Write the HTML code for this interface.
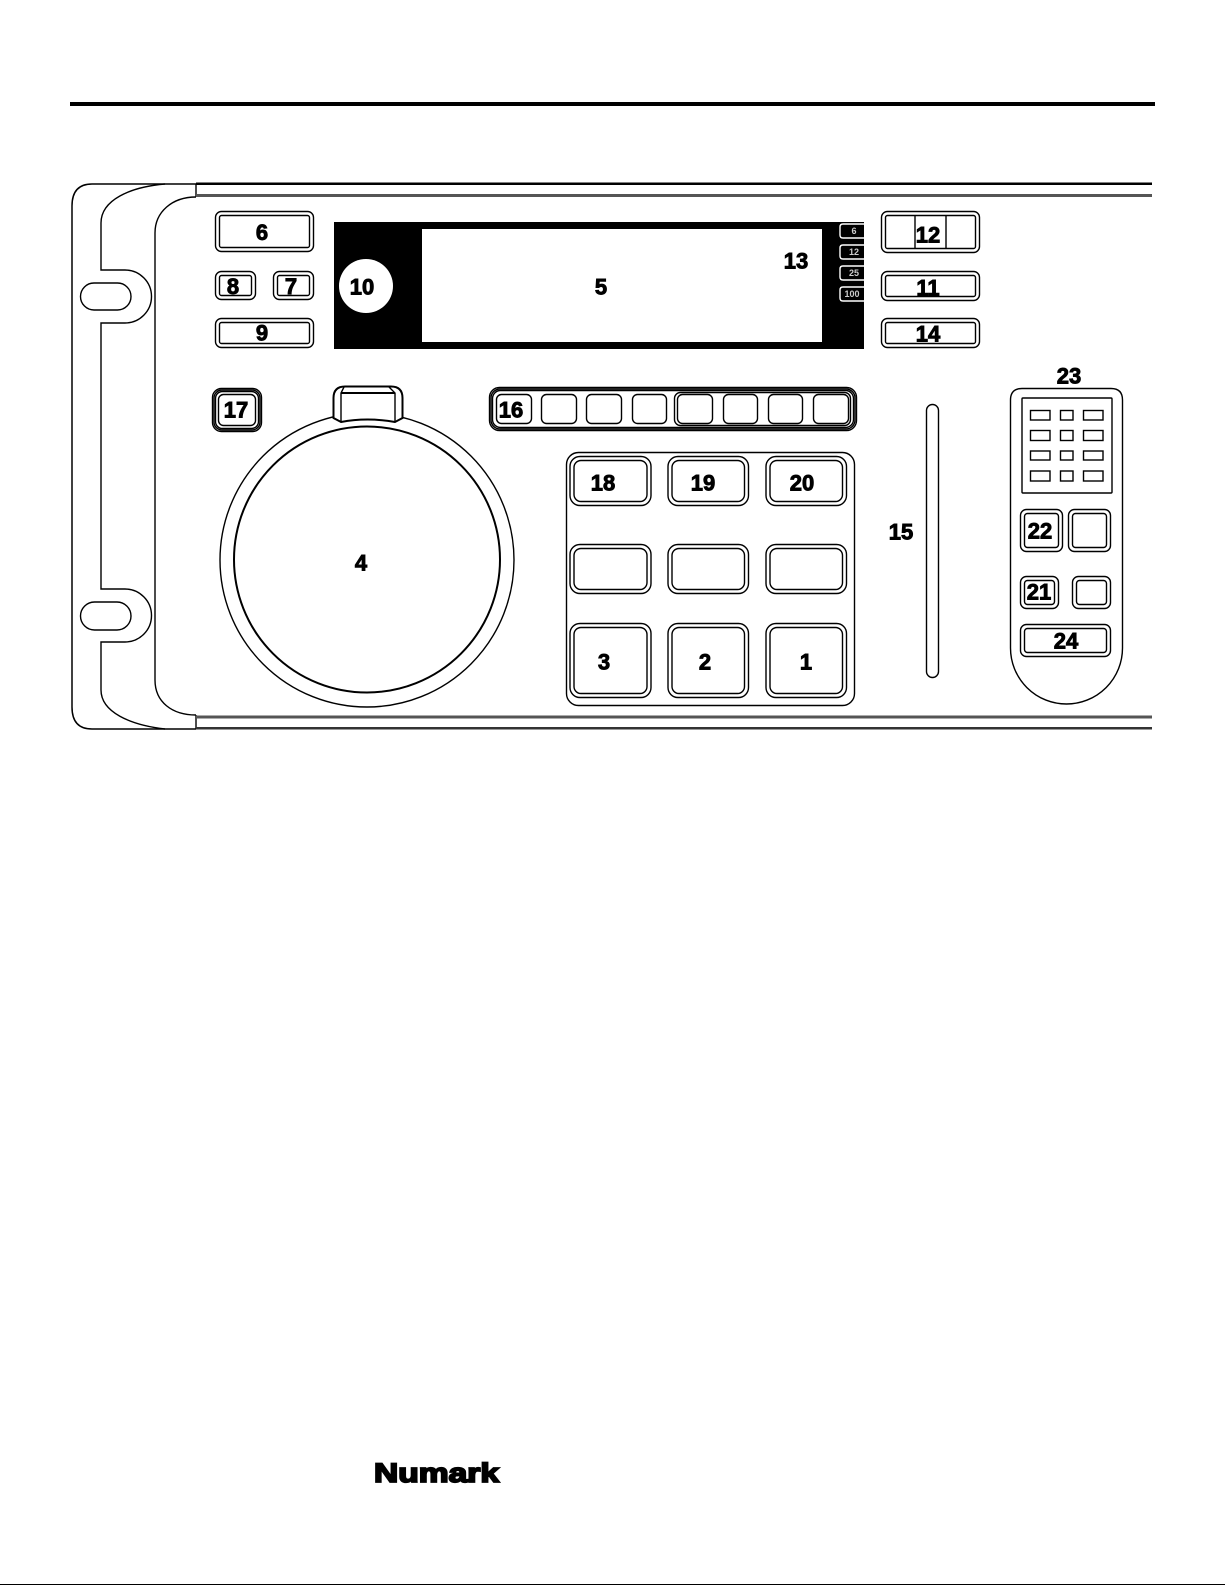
<!DOCTYPE html>
<html>
<head>
<meta charset="utf-8">
<style>
html,body{margin:0;padding:0;background:#fff;width:1225px;height:1585px;overflow:hidden}
svg{display:block}
.l{font-family:"Liberation Sans",sans-serif;font-weight:bold;font-size:22px;text-anchor:middle;fill:#000;stroke:#000;stroke-width:.9px;dominant-baseline:central}
.s{font-family:"Liberation Sans",sans-serif;font-weight:bold;font-size:9px;text-anchor:middle;fill:#ccc;dominant-baseline:central}
rect,path,circle,line{fill:none;stroke:#000;stroke-width:1.4}
.w{fill:#fff}
.t{stroke-width:2}
</style>
</head>
<body>
<svg width="1225" height="1585" viewBox="0 0 1225 1585" xmlns="http://www.w3.org/2000/svg">
<rect x="70" y="102" width="1085" height="4" style="fill:#000;stroke:none"/>
<rect x="0" y="1584" width="1225" height="1" style="fill:#000;stroke:none"/>

<!-- frame -->
<path d="M196 184 H92 Q72 184 72 206 V707 Q72 729 92 729 H196" style="stroke-width:1.5"/>
<path d="M165 184 C130 187 101 200 101 223 V270 H125 A26.5 26.5 0 0 1 125 323 H101 V589 H125 A26.5 26.5 0 0 1 125 642 H101 V690 C101 712 130 725 165 729"/>
<rect x="80.500" y="283" width="50.500" height="27" rx="13.500"/>
<rect x="80.500" y="602" width="50.500" height="28" rx="14"/>
<path d="M196 197 C172 197 155 212 155 233 V680 C155 702 172 715 196 715"/>
<line x1="196" y1="184" x2="196" y2="197"/>
<line x1="196" y1="715" x2="196" y2="729"/>
<rect x="196" y="182.500" width="956" height="2.500" style="fill:#000;stroke:none"/>
<rect x="196" y="194" width="956" height="3" style="fill:#555;stroke:none"/>
<rect x="196" y="715.500" width="956" height="3" style="fill:#555;stroke:none"/>
<rect x="196" y="727" width="956" height="2.500" style="fill:#333;stroke:none"/>

<!-- left buttons -->
<rect x="215.500" y="211.500" width="98" height="40" rx="6"/><rect x="219.500" y="215.500" width="90" height="32" rx="2"/>
<rect x="215.500" y="271.500" width="40" height="28" rx="6"/><rect x="219.500" y="275.500" width="32" height="20" rx="2"/>
<rect x="273.500" y="271.500" width="40" height="28" rx="6"/><rect x="277.500" y="275.500" width="32" height="20" rx="2"/>
<rect x="215.500" y="318.500" width="98" height="29" rx="6"/><rect x="219.500" y="322.500" width="90" height="21" rx="2"/>

<!-- display -->
<rect x="334" y="222" width="530" height="127" style="fill:#000;stroke:none"/>
<rect x="422" y="229" width="400" height="113" style="fill:#fff;stroke:none"/>
<circle cx="366" cy="286" r="27" style="fill:#fff;stroke:none"/>
<path d="M864 224 H843 Q840 224 840 227 V235 Q840 238 843 238 H864" style="stroke:#fff"/>
<path d="M864 245 H843 Q840 245 840 248 V256 Q840 259 843 259 H864" style="stroke:#fff"/>
<path d="M864 266 H843 Q840 266 840 269 V277 Q840 280 843 280 H864" style="stroke:#fff"/>
<path d="M864 287 H843 Q840 287 840 290 V298 Q840 301 843 301 H864" style="stroke:#fff"/>
<text class="s" x="854" y="231">6</text>
<text class="s" x="854" y="252">12</text>
<text class="s" x="854" y="273">25</text>
<text class="s" x="852" y="294">100</text>

<!-- right buttons -->
<rect x="881.500" y="211.500" width="98" height="41" rx="6"/><rect x="885.500" y="215.500" width="90" height="33" rx="2"/>
<line x1="915" y1="215" x2="915" y2="248"/><line x1="946" y1="215" x2="946" y2="248"/>
<rect x="881.500" y="271.500" width="98" height="29" rx="6"/><rect x="885.500" y="275.500" width="90" height="21" rx="2"/>
<rect x="881.500" y="318.500" width="98" height="29" rx="6"/><rect x="885.500" y="322.500" width="90" height="21" rx="2"/>

<!-- 17 -->
<rect x="212.500" y="388.500" width="49" height="43" rx="9"/><rect x="214" y="390" width="46" height="40" rx="8"/><rect x="215.500" y="391.500" width="43" height="37" rx="7"/><rect x="218.500" y="394.500" width="37" height="31" rx="5"/>

<!-- wheel -->
<circle cx="367" cy="560" r="147"/>
<circle cx="367" cy="559.500" r="133" class="t"/>
<path d="M333.500 418 V398 Q333.500 386.500 345 386.500 H391 Q402.500 386.500 402.500 398 V418 L395 422 Q367 417 341 422 Z" class="w t"/>
<path d="M344 387 L341 393 V422 M389 387 L395 393 V422"/>
<line x1="341" y1="393" x2="395" y2="393" class="t"/>

<!-- strip 16 -->
<rect x="489.500" y="387.500" width="367" height="43" rx="10"/><rect x="491" y="389" width="364" height="40" rx="9"/><rect x="492.500" y="390.500" width="361" height="37" rx="8"/>
<rect x="674.500" y="392.500" width="176" height="33" rx="6"/>
<rect x="496.500" y="394.500" width="35" height="29" rx="5"/>
<rect x="541.500" y="394.500" width="35" height="29" rx="5"/>
<rect x="586.500" y="394.500" width="35" height="29" rx="5"/>
<rect x="632.500" y="394.500" width="34" height="29" rx="5"/>
<rect x="677.500" y="394.500" width="35" height="29" rx="5"/>
<rect x="723.500" y="394.500" width="34" height="29" rx="5"/>
<rect x="768.500" y="394.500" width="34" height="29" rx="5"/>
<rect x="813.500" y="394.500" width="35" height="29" rx="5"/>

<!-- pads -->
<rect x="566.500" y="452.500" width="288" height="253" rx="12"/>
<rect x="570" y="456.500" width="81" height="49" rx="10"/><rect x="574" y="460.500" width="73" height="41" rx="7"/>
<rect x="668" y="456.500" width="80.500" height="49" rx="10"/><rect x="672" y="460.500" width="72.500" height="41" rx="7"/>
<rect x="766" y="456.500" width="80.500" height="49" rx="10"/><rect x="770" y="460.500" width="72.500" height="41" rx="7"/>
<rect x="570" y="544.500" width="81" height="49" rx="10"/><rect x="574" y="548.500" width="73" height="41" rx="7"/>
<rect x="668" y="544.500" width="80.500" height="49" rx="10"/><rect x="672" y="548.500" width="72.500" height="41" rx="7"/>
<rect x="766" y="544.500" width="80.500" height="49" rx="10"/><rect x="770" y="548.500" width="72.500" height="41" rx="7"/>
<rect x="570" y="623.500" width="81" height="74" rx="10"/><rect x="574" y="627.500" width="73" height="66" rx="7"/>
<rect x="668" y="623.500" width="80.500" height="74" rx="10"/><rect x="672" y="627.500" width="72.500" height="66" rx="7"/>
<rect x="766" y="623.500" width="80.500" height="74" rx="10"/><rect x="770" y="627.500" width="72.500" height="66" rx="7"/>

<!-- slider -->
<rect x="926.500" y="404.500" width="12" height="273" rx="6"/>

<!-- remote -->
<path d="M1010.500 400 Q1010.500 388.500 1022 388.500 H1111 Q1122.500 388.500 1122.500 400 V648 A56 56 0 0 1 1010.500 648 Z"/>
<rect x="1022" y="398" width="90" height="95" rx="1"/>
<rect x="1030.500" y="410.500" width="19.500" height="9.500"/><rect x="1060.500" y="410.500" width="12.500" height="9.500"/><rect x="1083.500" y="410.500" width="19.500" height="9.500"/>
<rect x="1030.500" y="430.500" width="19.500" height="10"/><rect x="1060.500" y="430.500" width="12.500" height="10"/><rect x="1083.500" y="430.500" width="19.500" height="10"/>
<rect x="1030.500" y="451" width="19.500" height="9"/><rect x="1060.500" y="451" width="12.500" height="9"/><rect x="1083.500" y="451" width="19.500" height="9"/>
<rect x="1030.500" y="471" width="19.500" height="10"/><rect x="1060.500" y="471" width="12.500" height="10"/><rect x="1083.500" y="471" width="19.500" height="10"/>
<rect x="1020.500" y="509.500" width="42" height="42" rx="6"/><rect x="1024.500" y="513.500" width="34" height="34" rx="3"/>
<rect x="1068.500" y="509.500" width="42" height="42" rx="6"/><rect x="1072.500" y="513.500" width="34" height="34" rx="3"/>
<rect x="1020.500" y="576.500" width="38" height="32" rx="6"/><rect x="1024.500" y="580.500" width="30" height="24" rx="3"/>
<rect x="1072.500" y="576.500" width="38" height="32" rx="6"/><rect x="1076.500" y="580.500" width="30" height="24" rx="3"/>
<rect x="1020.500" y="624.500" width="90" height="32" rx="6"/><rect x="1024.500" y="628.500" width="82" height="24" rx="3"/>

<!-- labels -->
<text class="l" x="262" y="232.500">6</text>
<text class="l" x="233" y="286.500">8</text>
<text class="l" x="291" y="286.500">7</text>
<text class="l" x="262" y="333">9</text>
<text class="l" x="362" y="287">10</text>
<text class="l" x="601" y="287">5</text>
<text class="l" x="796" y="261">13</text>
<text class="l" x="928" y="235">12</text>
<text class="l" x="928" y="288">11</text>
<text class="l" x="928" y="334">14</text>
<text class="l" x="236" y="410">17</text>
<text class="l" x="511" y="410">16</text>
<text class="l" x="361" y="563">4</text>
<text class="l" x="603" y="483">18</text>
<text class="l" x="703" y="483">19</text>
<text class="l" x="802" y="483">20</text>
<text class="l" x="604" y="662">3</text>
<text class="l" x="705" y="662">2</text>
<text class="l" x="806" y="662">1</text>
<text class="l" x="901" y="532">15</text>
<text class="l" x="1069" y="376">23</text>
<text class="l" x="1040" y="531">22</text>
<text class="l" x="1039" y="592">21</text>
<text class="l" x="1066" y="641">24</text>
<text x="374" y="1482" textLength="125" lengthAdjust="spacingAndGlyphs" style="font-family:'Liberation Sans',sans-serif;font-weight:bold;font-size:27px;fill:#000;stroke:#000;stroke-width:1.8px">Numark</text>
</svg>
</body>
</html>
